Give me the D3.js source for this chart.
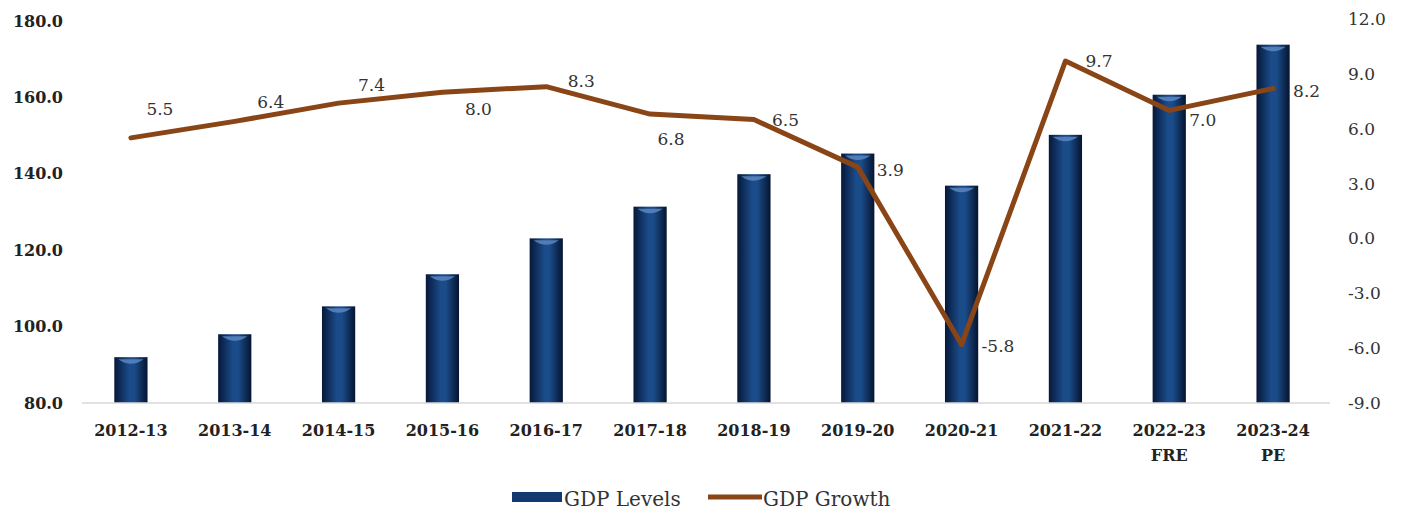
<!DOCTYPE html>
<html>
<head>
<meta charset="utf-8">
<script src="https://cdn.jsdelivr.net/npm/d3@7"></script>
<style>
  body { margin: 0; background: #fff; }
  svg { display: block; font-family: "DejaVu Serif", serif; }
</style>
</head>
<body>
<div id="chart"></div>
<script>
// Data
const categories = ['2012-13', '2013-14', '2014-15', '2015-16', '2016-17', '2017-18',
  '2018-19', '2019-20', '2020-21', '2021-22', '2022-23\nFRE', '2023-24\nPE'];
const gdpLevels = [92.0, 98.0, 105.3, 113.7, 123.1, 131.4, 139.9, 145.3, 136.9, 150.2, 160.7, 173.8];
const gdpGrowth = [5.5, 6.4, 7.4, 8.0, 8.3, 6.8, 6.5, 3.9, -5.8, 9.7, 7.0, 8.2];
const leftTicks = [80, 100, 120, 140, 160, 180];
const rightTicks = [-9, -6, -3, 0, 3, 6, 9, 12];

// label offsets from the point (dx, dy, anchor)
const labelOffsets = [
  [29, -29, 'middle'], [36, -19, 'middle'], [33, -18, 'middle'], [36, 17, 'middle'],
  [35, -6, 'middle'], [21, 25, 'middle'], [18, 0, 'start'], [19, 3, 'start'],
  [20, 2, 'start'], [20, 0, 'start'], [20, 10, 'start'], [20, 3, 'start']
];

const width = 1401, height = 510;
const plot = { left: 79, right: 1325, top: 19, bottom: 403 };

const svg = d3.select('#chart').append('svg')
  .attr('width', width)
  .attr('height', height);

const defs = svg.append('defs');
const grad = defs.append('linearGradient')
  .attr('id', 'barGrad')
  .attr('x1', '0%').attr('x2', '100%').attr('y1', '0%').attr('y2', '0%');
grad.append('stop').attr('offset', '0%').attr('stop-color', '#06183a');
grad.append('stop').attr('offset', '45%').attr('stop-color', '#1b4c8a');
grad.append('stop').attr('offset', '60%').attr('stop-color', '#1b4c8a');
grad.append('stop').attr('offset', '100%').attr('stop-color', '#051430');

const x = d3.scaleBand()
  .domain(categories)
  .range([plot.left, plot.right])
  .paddingInner(0.68)
  .paddingOuter(0.34);

const yLeft = d3.scaleLinear().domain([80, 180]).range([plot.bottom, 21]);
const yRight = d3.scaleLinear().domain([-9, 12]).range([plot.bottom, plot.top]);

// Bars
const bars = svg.append('g').attr('class', 'bars');
bars.selectAll('rect')
  .data(gdpLevels)
  .enter()
  .append('rect')
  .attr('x', (d, i) => x(categories[i]))
  .attr('y', d => yLeft(d))
  .attr('width', x.bandwidth())
  .attr('height', d => yLeft(80) - yLeft(d))
  .attr('fill', 'url(#barGrad)');

// little highlight at bar tops
bars.selectAll('path.shine')
  .data(gdpLevels)
  .enter()
  .append('path')
  .attr('class', 'shine')
  .attr('d', (d, i) => {
    const x0 = x(categories[i]) + 4, x1 = x0 + x.bandwidth() - 8, y0 = yLeft(d) + 2;
    return `M${x0},${y0} Q${(x0 + x1) / 2},${y0 + 9} ${x1},${y0} Z`;
  })
  .attr('fill', '#5b86bf')
  .attr('opacity', 0.85);

// Bottom axis
const xAxis = svg.append('g')
  .attr('transform', `translate(0,${plot.bottom})`)
  .call(d3.axisBottom(x).tickSize(0).tickFormat(''));
xAxis.select('.domain').attr('stroke', '#d9d9d9').attr('stroke-width', 1.5)
  .attr('d', `M${plot.left + 3},0H${plot.right + 5}`);

const xLabels = svg.append('g').attr('class', 'x-labels');
xLabels.selectAll('text')
  .data(categories)
  .enter()
  .append('text')
  .attr('x', d => x(d) + x.bandwidth() / 2)
  .attr('y', 436)
  .attr('text-anchor', 'middle')
  .attr('font-size', 16)
  .attr('font-weight', 'bold')
  .attr('fill', '#222')
  .each(function(d) {
    const lines = d.split('\n');
    d3.select(this).selectAll('tspan')
      .data(lines)
      .enter()
      .append('tspan')
      .attr('x', x(d) + x.bandwidth() / 2)
      .attr('dy', (l, j) => j === 0 ? 0 : 25)
      .text(l => l);
  });

// Left axis
svg.append('g')
  .selectAll('text')
  .data(leftTicks)
  .enter()
  .append('text')
  .attr('x', 63)
  .attr('y', d => yLeft(d))
  .attr('dy', '0.35em')
  .attr('text-anchor', 'end')
  .attr('font-size', 16)
  .attr('font-weight', 'bold')
  .attr('fill', '#222')
  .text(d => d.toFixed(1));

// Right axis
svg.append('g')
  .selectAll('text')
  .data(rightTicks)
  .enter()
  .append('text')
  .attr('x', 1348)
  .attr('y', d => yRight(d))
  .attr('dy', '0.35em')
  .attr('text-anchor', 'start')
  .attr('font-size', 17)
  .attr('fill', '#333')
  .text(d => d.toFixed(1));

// Growth line
const cx = i => x(categories[i]) + x.bandwidth() / 2;
const line = d3.line()
  .x((d, i) => cx(i))
  .y(d => yRight(d));

svg.append('path')
  .datum(gdpGrowth)
  .attr('d', line)
  .attr('fill', 'none')
  .attr('stroke', '#8a4516')
  .attr('stroke-width', 5)
  .attr('stroke-linejoin', 'round')
  .attr('stroke-linecap', 'round');

// Growth labels
svg.append('g')
  .selectAll('text')
  .data(gdpGrowth)
  .enter()
  .append('text')
  .attr('x', (d, i) => cx(i) + labelOffsets[i][0])
  .attr('y', (d, i) => yRight(d) + labelOffsets[i][1])
  .attr('dy', '0.35em')
  .attr('text-anchor', (d, i) => labelOffsets[i][2])
  .attr('font-size', 17)
  .attr('fill', '#333')
  .text(d => d.toFixed(1));

// Legend
const legend = svg.append('g').attr('class', 'legend');
legend.append('rect')
  .attr('x', 512).attr('y', 492)
  .attr('width', 50).attr('height', 10)
  .attr('fill', '#123a6e');
legend.append('text')
  .attr('x', 564).attr('y', 506)
  .attr('font-size', 20)
  .attr('fill', '#333')
  .text('GDP Levels');
legend.append('line')
  .attr('x1', 708).attr('x2', 762)
  .attr('y1', 497).attr('y2', 497)
  .attr('stroke', '#8a4516')
  .attr('stroke-width', 5);
legend.append('text')
  .attr('x', 763).attr('y', 506)
  .attr('font-size', 20)
  .attr('fill', '#333')
  .text('GDP Growth');
</script>
</body>
</html>
